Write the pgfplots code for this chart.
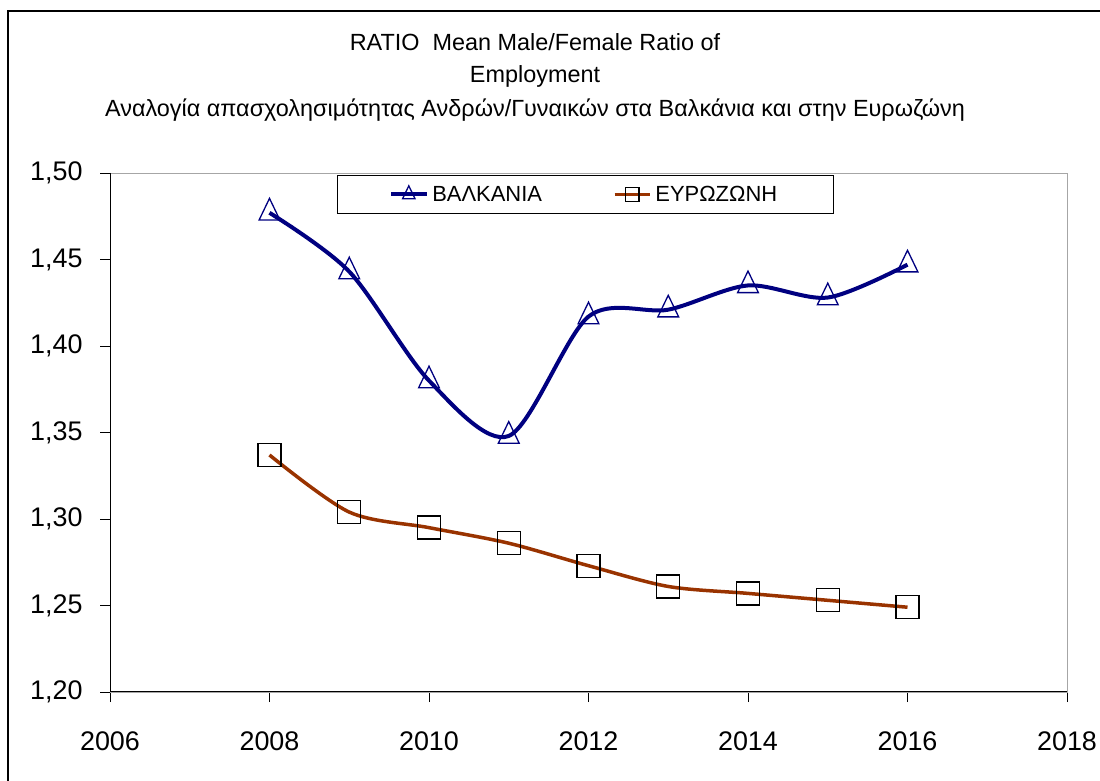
\documentclass[border=0pt]{standalone}
\usepackage{fontspec}
\setmainfont{Liberation Sans}
\usepackage{pgfplots}
\pgfplotsset{compat=1.18}
\usepackage{pgfplotstable}
\definecolor{navyline}{RGB}{0,0,128}
\definecolor{rustline}{RGB}{153,51,0}

\pgfplotstableread{
year val
2008 1.477
2009 1.443
2010 1.380
2011 1.348
2012 1.417
2013 1.421
2014 1.435
2015 1.428
2016 1.447
}\balkans

\pgfplotstableread{
year val
2008 1.337
2009 1.304
2010 1.295
2011 1.286
2012 1.273
2013 1.261
2014 1.257
2015 1.253
2016 1.249
}\eurozone

\begin{document}
\begin{tikzpicture}
\useasboundingbox (0bp,0bp) rectangle (1100bp,781bp);
\draw[line width=1.5bp] (8bp,0bp) -- (8bp,770bp) -- (1100bp,770bp);
\node[font=\fontsize{23.5}{26}\selectfont, anchor=base, inner sep=0pt] at (535bp,730bp) {RATIO\ \ Mean Male/Female Ratio of};
\node[font=\fontsize{23.5}{26}\selectfont, anchor=base, inner sep=0pt] at (535bp,698bp) {Employment};
\node[font=\fontsize{23.5}{26}\selectfont, anchor=base, inner sep=0pt] at (535bp,664bp) {Αναλογία απασχολησιμότητας Ανδρών/Γυναικών στα Βαλκάνια και στην Ευρωζώνη};
\begin{axis}[
  at={(110bp,89bp)}, anchor=south west,
  scale only axis, width=957bp, height=519bp,
  xmin=2006, xmax=2018, ymin=1.20, ymax=1.50,
  xtick={2006,2008,...,2018},
  ytick={1.20,1.25,1.30,1.35,1.40,1.45,1.50},
  xtick pos=lower, ytick pos=left,
  tick align=outside,
  major tick length=10bp,
  tick style={black, line width=0.8bp},
  axis line style={draw=gray!70, line width=0.8bp},
  ticklabel style={font=\fontsize{27}{29}\selectfont},
  /pgf/number format/assume math mode=true,
  xticklabel style={/pgf/number format/1000 sep={}, yshift=-26bp},
  yticklabel style={/pgf/number format/fixed, /pgf/number format/fixed zerofill, /pgf/number format/precision=2, /pgf/number format/use comma, xshift=-14bp},
  legend columns=2,
  legend style={
    at={(0.237,0.996)}, anchor=north west,
    draw=black, line width=1bp,
    font=\fontsize{22}{24}\selectfont,
    nodes={inner xsep=4bp, inner ysep=3bp},
    inner xsep=52bp, inner ysep=7.5bp,
    /tikz/every even column/.append style={column sep=67bp},
  },
  legend image code/.code={
    \draw[mark repeat=2, mark phase=2, #1, /tikz/every mark/.append style={scale=0.6}]
      plot coordinates {(0bp,0bp) (17.5bp,0bp) (35bp,0bp)};
  },
]
\addplot[navyline, line width=4bp, smooth, tension=0.5,
  mark=triangle, mark size=12bp,
  mark options={solid, fill=white, draw=navyline, line width=1.3bp, yscale=1.2}]
  table[x=year, y=val] {\balkans};
\addlegendentry{ΒΑΛΚΑΝΙΑ}
\addplot[rustline, line width=3.5bp, smooth, tension=0.5,
  mark=square, mark size=11.5bp,
  mark options={solid, fill=white, draw=black, line width=1.3bp}]
  table[x=year, y=val] {\eurozone};
\addlegendentry{ΕΥΡΩΖΩΝΗ}
\draw[black, line width=1.3bp] (rel axis cs:0,1) -- (rel axis cs:0,0) -- (rel axis cs:1,0);
\end{axis}
\end{tikzpicture}
\end{document}
